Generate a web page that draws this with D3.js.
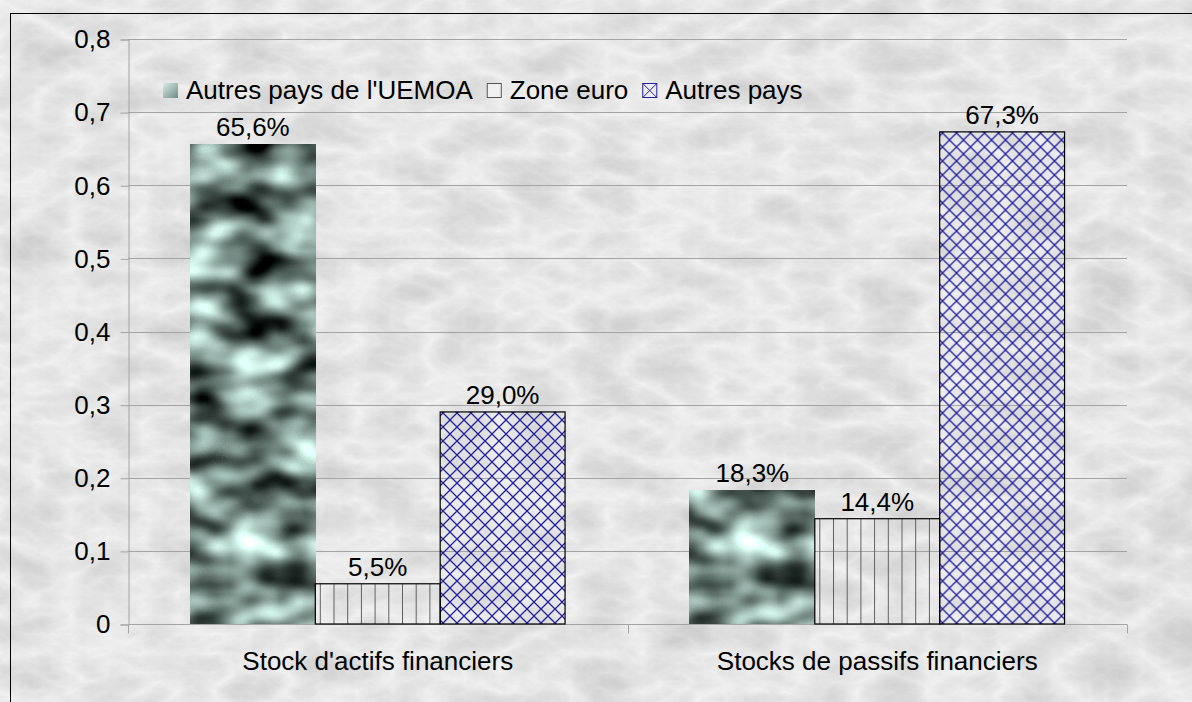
<!DOCTYPE html>
<html>
<head>
<meta charset="utf-8">
<script src="https://cdn.jsdelivr.net/npm/d3@7"></script>
<style>
  body { margin: 0; background: #e2e2e2; }
  svg text { font-family: "Liberation Sans", Arial, sans-serif; fill: #000; }
</style>
</head>
<body>
<script>
// data
var categories = ["Stock d'actifs financiers", "Stocks de passifs financiers"];
var series = ["Autres pays de l'UEMOA", "Zone euro", "Autres pays"];
var uemoa = [0.656, 0.183];
var zoneEuro = [0.055, 0.144];
var autresPays = [0.290, 0.673];
var yTicks = [0, 0.1, 0.2, 0.3, 0.4, 0.5, 0.6, 0.7, 0.8];

var width = 1192, height = 702;
var margin = {left: 128, right: 65, top: 39, bottom: 78};
var fontSize = "26px";

var fr = d3.formatLocale({decimal: ",", thousands: " ", grouping: [3], currency: ["", "€"]});
var pct = fr.format(".1%");
var tickFmt = fr.format(".1~f");

var svg = d3.select("body").append("svg")
    .attr("width", width)
    .attr("height", height);

var defs = svg.append("defs");

// marble background
var marble = defs.append("filter").attr("id", "marble")
    .attr("color-interpolation-filters", "sRGB")
    .attr("x", 0).attr("y", 0).attr("width", 1).attr("height", 1);
marble.append("feTurbulence")
    .attr("type", "turbulence")
    .attr("baseFrequency", "0.014 0.026")
    .attr("numOctaves", 4)
    .attr("seed", 3);
marble.append("feColorMatrix")
    .attr("type", "matrix")
    .attr("values", "-0.17 0 0 0 0.95  -0.17 0 0 0 0.95  -0.17 0 0 0 0.95  0 0 0 0 1");

// metallic texture for UEMOA bars
var metal = defs.append("filter").attr("id", "metal")
    .attr("color-interpolation-filters", "sRGB")
    .attr("x", 0).attr("y", 0).attr("width", 1).attr("height", 1);
metal.append("feTurbulence")
    .attr("type", "fractalNoise")
    .attr("baseFrequency", "0.02 0.032")
    .attr("numOctaves", 2)
    .attr("seed", 11);
metal.append("feColorMatrix")
    .attr("type", "matrix")
    .attr("values", "1.5 0 0 0 -0.3  1.7 0 0 0 -0.32  1.65 0 0 0 -0.32  0 0 0 0 1");

var vlines = defs.append("pattern").attr("id", "vlines")
    .attr("patternUnits", "userSpaceOnUse")
    .attr("width", 13.7).attr("height", 10);
vlines.append("line")
    .attr("x1", 0.5).attr("x2", 0.5).attr("y1", 0).attr("y2", 10)
    .attr("stroke", "#606060").attr("stroke-width", 1);

var hatch = defs.append("pattern").attr("id", "hatch")
    .attr("patternUnits", "userSpaceOnUse")
    .attr("width", 14).attr("height", 14);
hatch.append("path")
    .attr("d", "M0,0L14,14M14,0L0,14")
    .attr("stroke", "#2020a0").attr("stroke-width", 1.3).attr("fill", "none");

var legendGrad = defs.append("linearGradient").attr("id", "legendGrad")
    .attr("x1", 0).attr("y1", 0).attr("x2", 1).attr("y2", 1);
legendGrad.append("stop").attr("offset", 0).attr("stop-color", "#d8ece8");
legendGrad.append("stop").attr("offset", 1).attr("stop-color", "#6e8a86");

svg.append("rect")
    .attr("width", width).attr("height", height)
    .attr("filter", "url(#marble)");

svg.append("rect")
    .attr("x", 10.5).attr("y", 13.5)
    .attr("width", 1300).attr("height", 800)
    .attr("fill", "none").attr("stroke", "#000");

var y = d3.scaleLinear()
    .domain([0, 0.8])
    .range([height - margin.bottom, margin.top]);

var x0 = d3.scaleBand()
    .domain(categories)
    .range([margin.left, width - margin.right]);

var x1 = d3.scaleBand()
    .domain(series)
    .range([0, x0.bandwidth()])
    .paddingOuter(0.5);

// gridlines
svg.append("g")
    .selectAll("line")
    .data(yTicks.slice(1))
    .enter().append("line")
    .attr("x1", margin.left).attr("x2", width - margin.right)
    .attr("y1", function(d) { return Math.round(y(d)) + 0.5; })
    .attr("y2", function(d) { return Math.round(y(d)) + 0.5; })
    .attr("stroke", "#a4a4a4");

// y axis
var yAxis = svg.append("g")
    .attr("transform", "translate(" + (margin.left + 0.5) + ",0.5)")
    .call(d3.axisLeft(y).tickValues(yTicks).tickFormat(tickFmt).tickSize(8).tickPadding(10));
yAxis.selectAll("line, path").attr("stroke", "#a4a4a4");
yAxis.selectAll("text").style("font-size", fontSize);

// x axis
var xAxis = svg.append("g")
    .attr("transform", "translate(0," + (y(0) + 0.5) + ")");
xAxis.append("line")
    .attr("x1", margin.left).attr("x2", width - margin.right)
    .attr("stroke", "#a4a4a4");
xAxis.selectAll(".tk")
    .data([margin.left, x0(categories[1]), width - margin.right])
    .enter().append("line")
    .attr("x1", function(d) { return Math.round(d) + 0.5; })
    .attr("x2", function(d) { return Math.round(d) + 0.5; })
    .attr("y1", 0).attr("y2", 9)
    .attr("stroke", "#a4a4a4");
xAxis.selectAll("text")
    .data(categories)
    .enter().append("text")
    .attr("x", function(d) { return x0(d) + x0.bandwidth() / 2; })
    .attr("y", 45)
    .attr("text-anchor", "middle")
    .style("font-size", fontSize)
    .text(function(d) { return d; });

// bars
var rows = categories.map(function(c, i) {
    return [
        {cat: c, key: series[0], value: uemoa[i]},
        {cat: c, key: series[1], value: zoneEuro[i]},
        {cat: c, key: series[2], value: autresPays[i]}
    ];
});

var group = svg.append("g").selectAll("g")
    .data(rows)
    .enter().append("g")
    .attr("transform", function(d) { return "translate(" + x0(d[0].cat) + ",0)"; });

group.selectAll("rect")
    .data(function(d) { return d; })
    .enter().append("rect")
    .attr("x", function(d) { return x1(d.key); })
    .attr("y", function(d) { return y(d.value); })
    .attr("width", x1.bandwidth())
    .attr("height", function(d) { return y(0) - y(d.value); })
    .attr("fill", function(d, i) { return i === 0 ? "#777" : (i === 1 ? "url(#vlines)" : "url(#hatch)"); })
    .attr("filter", function(d, i) { return i === 0 ? "url(#metal)" : null; })
    .attr("stroke", function(d, i) { return i === 0 ? "none" : "#000"; })
    .attr("stroke-width", 1.2);

group.selectAll("text")
    .data(function(d) { return d; })
    .enter().append("text")
    .attr("x", function(d) { return x1(d.key) + x1.bandwidth() / 2; })
    .attr("y", function(d) { return y(d.value) - 8; })
    .attr("text-anchor", "middle")
    .style("font-size", fontSize)
    .text(function(d) { return pct(d.value); });

// legend
var legend = svg.append("g").attr("transform", "translate(163,83)");
var lx = 0;
series.forEach(function(s, i) {
    var g = legend.append("g").attr("transform", "translate(" + lx + ",0)");
    if (i === 0) {
        g.append("rect").attr("width", 15).attr("height", 15)
            .attr("fill", "url(#legendGrad)");
    } else if (i === 1) {
        g.append("rect").attr("x", 0.5).attr("y", 0.5).attr("width", 14).attr("height", 14)
            .attr("fill", "#f0f0f0").attr("stroke", "#555");
    } else {
        g.append("rect").attr("x", 0.5).attr("y", 0.5).attr("width", 14).attr("height", 14)
            .attr("fill", "#eee").attr("stroke", "#2020a0");
        g.append("path").attr("d", "M0.5,0.5L14.5,14.5M14.5,0.5L0.5,14.5")
            .attr("stroke", "#2020a0").attr("fill", "none");
    }
    var t = g.append("text")
        .attr("x", 23).attr("y", 16)
        .style("font-size", fontSize)
        .text(s);
    lx += 23 + t.node().getComputedTextLength() + 14;
});
</script>
</body>
</html>
